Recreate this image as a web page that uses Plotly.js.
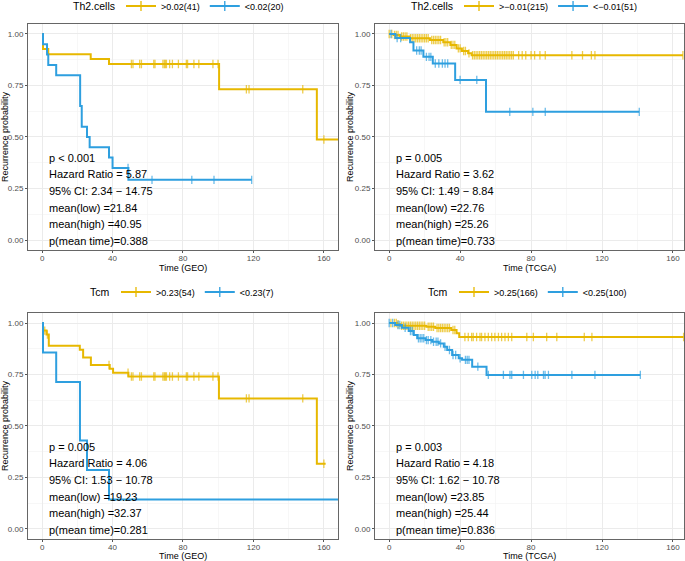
<!DOCTYPE html>
<html>
<head>
<meta charset="utf-8">
<script src="https://cdn.plot.ly/plotly-3.0.1.min.js"></script>
<style>
body { margin: 0; background: #fff; }
#graph { width: 685px; height: 561px; }
</style>
</head>
<body>
<div id="graph"></div>
<script>
// survminer default palette
var yellow = '#E7B800';
var blue = '#2E9FDF';

// GEO, Th2.cells: high group (event times, survival after each event, censor times)
var geoTh2HiTime = [0.5, 3.5, 27.6, 38, 100.5, 156];
var geoTh2HiSurv = [0.927, 0.902, 0.878, 0.854, 0.732, 0.488];
var geoTh2HiCens = [50.7, 51.6, 55.4, 56.4, 63.4, 64.1, 68.6, 69.4, 70, 70.6, 72.4, 74, 77.4, 81.9, 82.6, 86.2, 89, 97, 99.9, 116, 117.5, 148, 160, 172];
// GEO, Th2.cells: low group
var geoTh2LoTime = [0.5, 2.8, 3.5, 8, 21.6, 22.5, 25.5, 27, 38, 40, 49];
var geoTh2LoSurv = [0.95, 0.90, 0.85, 0.80, 0.65, 0.55, 0.50, 0.45, 0.40, 0.35, 0.292];
var geoTh2LoCens = [48.8, 62.4, 85, 97.6, 119];

// TCGA, Th2.cells
var tcgaTh2HiTime = [2.5, 6, 11.5, 23, 30.5, 34.5, 38, 41, 44.5, 46.5];
var tcgaTh2HiSurv = [0.995, 0.988, 0.979, 0.971, 0.96, 0.947, 0.93, 0.917, 0.906, 0.897];
var tcgaTh2HiCens = [0, 1.5, 3, 4, 5, 7, 8, 9, 10, 12, 13, 14, 15, 16, 17, 18, 19, 20, 21, 22, 24, 25, 26, 27, 28, 29, 31, 32, 33, 35, 36, 37, 39, 40, 42, 43, 45, 47, 48, 49, 50, 51, 52, 53, 54, 55, 56, 57, 58, 59, 60, 61, 62, 63, 64, 65, 66, 67, 68, 69, 70, 73, 75, 77, 80, 82, 85, 88, 103, 109, 114, 116, 165.6];
var tcgaTh2LoTime = [3.5, 11.8, 13.7, 19.3, 24.6, 37.2, 54.6];
var tcgaTh2LoSurv = [0.98, 0.96, 0.92, 0.889, 0.857, 0.777, 0.622];
var tcgaTh2LoCens = [1, 4.5, 6.5, 15.5, 17, 18, 21, 22.5, 23.5, 26, 28, 30, 31.5, 33, 40, 49.4, 68, 81, 88, 141];

// GEO, Tcm
var geoTcmHiTime = [0.5, 2.5, 3.8, 21.4, 23.3, 27.7, 38.4, 40.3, 49, 100.4, 156];
var geoTcmHiSurv = [0.963, 0.944, 0.889, 0.870, 0.833, 0.796, 0.778, 0.759, 0.740, 0.634, 0.317];
var geoTcmHiCens = [1.5, 3, 38, 48.8, 50.7, 51.6, 55.4, 56.4, 63.4, 64.1, 68.6, 69.4, 70, 70.6, 72.4, 74, 77.4, 81.9, 82.6, 86.2, 89, 97, 99.9, 116, 117.5, 148, 160];
var geoTcmHiEnd = 161;
var geoTcmLoTime = [0.5, 8, 21.5, 25.5, 38];
var geoTcmLoSurv = [0.857, 0.714, 0.429, 0.286, 0.143];
var geoTcmLoCens = [];
var geoTcmLoEnd = 180;

// TCGA, Tcm
var tcgaTcmHiTime = [4.3, 6.2, 21, 26, 35, 38, 39.5];
var tcgaTcmHiSurv = [0.994, 0.987, 0.982, 0.976, 0.966, 0.950, 0.932];
var tcgaTcmHiCens = [1, 3, 4, 5, 7, 8, 9, 10, 11, 12, 13, 14, 15, 16, 17, 18, 19, 20, 22, 23, 24, 25, 27, 28, 29, 30, 31, 32, 33, 34, 36, 37, 42.7, 44.6, 46.5, 47.4, 49.3, 51.2, 52.1, 54, 55.9, 57.8, 59.6, 61.6, 63.4, 65.3, 67.2, 69.1, 77.6, 81.3, 88.8, 94.5, 110, 114.3, 166];
var tcgaTcmLoTime = [3.4, 7.2, 11, 13.9, 15.8, 20.5, 24.2, 28, 30.8, 32.7, 35.5, 39.2, 41.1, 46.8, 54.9];
var tcgaTcmLoSurv = [0.99, 0.977, 0.961, 0.942, 0.926, 0.917, 0.909, 0.901, 0.885, 0.869, 0.845, 0.829, 0.821, 0.788, 0.748];
var tcgaTcmLoCens = [0, 2, 5, 6, 9, 12, 13, 16.5, 17.5, 18.5, 19.5, 21, 22, 23.5, 25, 26.5, 27.5, 29, 31.5, 34, 36, 37.5, 40, 43, 44, 45, 50, 55.9, 64.4, 68.1, 69.1, 75.7, 80.4, 82.3, 83.8, 87, 87.9, 89.8, 103, 116, 141.6];

// legend titles and group labels
var legendTitles = ['Th2.cells', 'Th2.cells', 'Tcm', 'Tcm'];
var hiLabels = ['>0.02(41)', '>\u22120.01(215)', '>0.23(54)', '>0.25(166)'];
var loLabels = ['<0.02(20)', '<\u22120.01(51)', '<0.23(7)', '<0.25(100)'];
var xTitles = ['Time (GEO)', 'Time (TCGA)', 'Time (GEO)', 'Time (TCGA)'];

// statistics printed inside each panel
var stats = [
	['p < 0.001', 'Hazard Ratio = 5.87', '95% CI: 2.34 \u2212 14.75', 'mean(low) =21.84', 'mean(high) =40.95', 'p(mean time)=0.388'],
	['p = 0.005', 'Hazard Ratio = 3.62', '95% CI: 1.49 \u2212 8.84', 'mean(low) =22.76', 'mean(high) =25.26', 'p(mean time)=0.733'],
	['p = 0.005', 'Hazard Ratio = 4.06', '95% CI: 1.53 \u2212 10.78', 'mean(low) =19.23', 'mean(high) =32.37', 'p(mean time)=0.281'],
	['p = 0.003', 'Hazard Ratio = 4.18', '95% CI: 1.62 \u2212 10.78', 'mean(low) =23.85', 'mean(high) =25.44', 'p(mean time)=0.836']
];

var groups = [
	[[geoTh2HiTime, geoTh2HiSurv, geoTh2HiCens, null], [geoTh2LoTime, geoTh2LoSurv, geoTh2LoCens, null]],
	[[tcgaTh2HiTime, tcgaTh2HiSurv, tcgaTh2HiCens, null], [tcgaTh2LoTime, tcgaTh2LoSurv, tcgaTh2LoCens, null]],
	[[geoTcmHiTime, geoTcmHiSurv, geoTcmHiCens, geoTcmHiEnd], [geoTcmLoTime, geoTcmLoSurv, geoTcmLoCens, geoTcmLoEnd]],
	[[tcgaTcmHiTime, tcgaTcmHiSurv, tcgaTcmHiCens, null], [tcgaTcmLoTime, tcgaTcmLoSurv, tcgaTcmLoCens, null]]
];

// panel placement (paper fractions)
var W = 685, H = 561;
var xDomains = [[0.0409, 0.4934], [0.5474, 0.9985], [0.0409, 0.4934], [0.5474, 0.9985]];
var yDomains = [[0.5538, 0.9578], [0.5538, 0.9578], [0.0387, 0.4426], [0.0387, 0.4426]];
var xRanges = [[-8, 168], [-8, 166.2], [-8, 168], [-8, 166.2]];
// legend left edge and row centre, x title centre (pixels)
var legendLeft = [121, 459, 116, 454];
var legendRow = [6, 6, 292, 292];
var xTitleRow = [268, 268, 556, 556];
var yTitleCol = [5, 350, 5, 350];

var font = 'Liberation Sans, Arial, sans-serif';

// step points of a Kaplan-Meier curve, censor points flagged
function kmPoints(evT, evS, cens, tEnd) {
	var pts = [{t: 0, s: 1, c: false}];
	for (var i = 0; i < evT.length; i++) pts.push({t: evT[i], s: evS[i], c: false});
	for (var j = 0; j < cens.length; j++) {
		var s = 1;
		for (var k = 0; k < evT.length; k++) if (evT[k] <= cens[j]) s = evS[k];
		pts.push({t: cens[j], s: s, c: true});
	}
	pts.sort(function(a, b) { return (a.t - b.t) || (a.c - b.c); });
	if (tEnd !== null) pts.push({t: tEnd, s: pts[pts.length - 1].s, c: false});
	return pts;
}

var data = [];
var layout = {
	width: W,
	height: H,
	margin: {l: 0, r: 0, t: 0, b: 0, autoexpand: false},
	paper_bgcolor: '#fff',
	plot_bgcolor: '#fff',
	font: {family: font, color: '#000'},
	annotations: []
};

var colors = [yellow, blue];

for (var p = 0; p < 4; p++) {
	var n = p === 0 ? '' : String(p + 1);
	var legName = 'legend' + n;
	var labels = [hiLabels[p], loLabels[p]];

	for (var g = 0; g < 2; g++) {
		var grp = groups[p][g];
		var pts = kmPoints(grp[0], grp[1], grp[2], grp[3]);
		data.push({
			x: pts.map(function(d) { return d.t; }),
			y: pts.map(function(d) { return d.s; }),
			xaxis: 'x' + n,
			yaxis: 'y' + n,
			mode: 'lines+markers',
			line: {shape: 'hv', width: 2, color: colors[g]},
			marker: {
				symbol: 'line-ns-open',
				size: pts.map(function(d) { return d.c ? 6 : 0; }),
				color: colors[g],
				line: {width: 1.3, color: colors[g]}
			},
			showlegend: false,
			hoverinfo: 'skip',
			type: 'scatter'
		});
		// legend key only
		data.push({
			x: [null],
			y: [null],
			xaxis: 'x' + n,
			yaxis: 'y' + n,
			name: labels[g],
			legend: legName,
			mode: 'lines+markers',
			line: {width: 2, color: colors[g]},
			marker: {symbol: 'line-ns-open', size: 7, color: colors[g], line: {width: 1.3, color: colors[g]}},
			type: 'scatter'
		});
	}

	layout['xaxis' + n] = {
		domain: xDomains[p],
		anchor: 'y' + n,
		range: xRanges[p],
		tickvals: [0, 40, 80, 120, 160],
		ticks: 'outside',
		ticklen: 2,
		tickcolor: '#555',
		ticklabelstandoff: -2,
		tickfont: {size: 8, color: '#4d4d4d'},
		showgrid: true,
		gridcolor: '#ebebeb',
		gridwidth: 1,
		minor: {dtick: 20, tick0: 0, showgrid: true, gridcolor: '#f2f2f2', gridwidth: 0.6},
		zeroline: false,
		showline: true,
		mirror: true,
		linecolor: '#666',
		linewidth: 1
	};
	layout['yaxis' + n] = {
		domain: yDomains[p],
		anchor: 'x' + n,
		range: [-0.05, 1.05],
		tickvals: [0, 0.25, 0.5, 0.75, 1],
		tickformat: '.2f',
		ticks: 'outside',
		ticklen: 2,
		tickcolor: '#555',
		tickfont: {size: 8, color: '#4d4d4d'},
		showgrid: true,
		gridcolor: '#ebebeb',
		gridwidth: 1,
		minor: {dtick: 0.125, tick0: 0, showgrid: true, gridcolor: '#f2f2f2', gridwidth: 0.6},
		zeroline: false,
		showline: true,
		mirror: true,
		linecolor: '#666',
		linewidth: 1
	};

	layout[legName] = {
		orientation: 'h',
		x: legendLeft[p] / W,
		xanchor: 'left',
		y: 1 - legendRow[p] / H,
		yanchor: 'middle',
		bgcolor: 'rgba(0,0,0,0)',
		font: {size: 9, color: '#000'},
		itemwidth: 30
	};

	// legend title
	layout.annotations.push({
		xref: 'paper',
		yref: 'paper',
		x: (legendLeft[p] - 4) / W,
		y: 1 - legendRow[p] / H,
		xanchor: 'right',
		yanchor: 'middle',
		text: legendTitles[p],
		showarrow: false,
		font: {size: 10.5, color: '#000'}
	});

	// x axis title
	layout.annotations.push({
		xref: 'paper',
		yref: 'paper',
		x: (xDomains[p][0] + xDomains[p][1]) / 2,
		y: 1 - xTitleRow[p] / H,
		xanchor: 'center',
		yanchor: 'middle',
		text: xTitles[p],
		showarrow: false,
		font: {size: 9, color: '#000'}
	});

	// y axis title
	layout.annotations.push({
		xref: 'paper',
		yref: 'paper',
		x: yTitleCol[p] / W,
		y: (yDomains[p][0] + yDomains[p][1]) / 2,
		xanchor: 'center',
		yanchor: 'middle',
		textangle: -90,
		text: 'Recurrence probability',
		showarrow: false,
		font: {size: 9, color: '#000'}
	});

	// statistics lines
	for (var s = 0; s < stats[p].length; s++) {
		layout.annotations.push({
			xref: 'x' + n,
			yref: 'y' + n,
			x: 3,
			y: 0.40 - 0.081 * s,
			xanchor: 'left',
			yanchor: 'middle',
			text: stats[p][s],
			showarrow: false,
			font: {size: 11, color: '#000'}
		});
	}
}

Plotly.newPlot('graph', data, layout, {staticPlot: true});
</script>
</body>
</html>
